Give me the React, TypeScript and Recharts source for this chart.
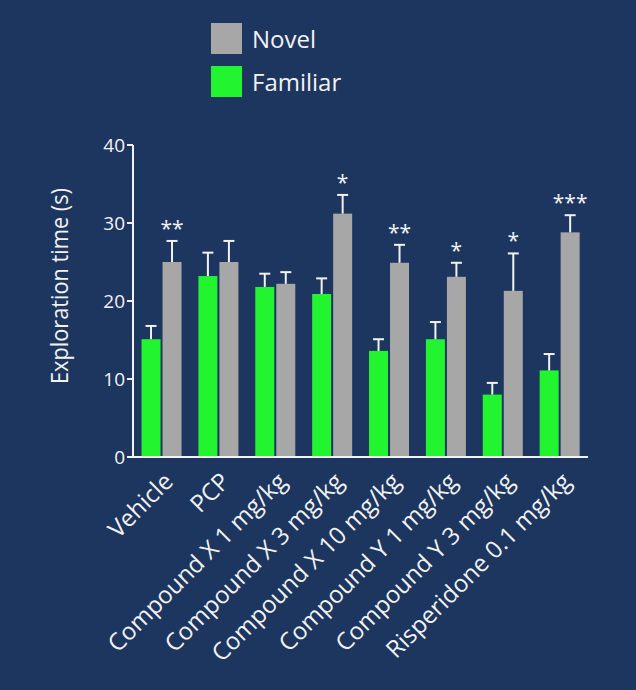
import React from 'react';
import { BarChart, Bar, XAxis, YAxis, Label } from 'recharts';

const categories = [
  'Vehicle',
  'PCP',
  'Compound X 1 mg/kg',
  'Compound X 3 mg/kg',
  'Compound X 10 mg/kg',
  'Compound Y 1 mg/kg',
  'Compound Y 3 mg/kg',
  'Risperidone 0.1 mg/kg',
];
const familiar = [15.1, 23.2, 21.8, 20.9, 13.6, 15.1, 8.0, 11.1];
const familiarErr = [1.7, 3.0, 1.7, 2.0, 1.5, 2.2, 1.5, 2.1];
const novel = [25.0, 25.0, 22.2, 31.2, 24.9, 23.1, 21.3, 28.8];
const novelErr = [2.7, 2.7, 1.5, 2.4, 2.3, 1.8, 4.8, 2.2];
const significance = ['**', '', '', '*', '**', '*', '*', '***'];
const yTicks = [0, 10, 20, 30, 40];
const legendItems = ['Novel', 'Familiar'];

const BG = '#1d365f';
const GREEN = '#22f530';
const GRAY = '#a7a7a7';
const WHITE = '#f2f2f2';
const FONT = '"Open Sans", sans-serif';

const data = categories.map((name, i) => ({
  name,
  familiar: familiar[i],
  familiarErr: familiarErr[i],
  novel: novel[i],
  novelErr: novelErr[i],
  sig: significance[i],
}));

// bar + one-sided error whisker (+ optional stars)
const makeShape = (errKey: string, fill: string, withStars: boolean) => (props: any) => {
  const { x, y, width, height, value, payload } = props;
  const v = Array.isArray(value) ? value[1] - value[0] : value;
  const perUnit = v ? height / v : 0;
  const top = y - payload[errKey] * perUnit;
  const cx = x + width / 2;
  return (
    <g>
      <rect x={x} y={y} width={width} height={height} fill={fill} />
      <line x1={cx} y1={y} x2={cx} y2={top} stroke={WHITE} strokeWidth={2} />
      <line x1={cx - 5.5} y1={top} x2={cx + 5.5} y2={top} stroke={WHITE} strokeWidth={2} />
      {withStars && payload.sig ? (
        <text x={cx} y={top - 5} textAnchor="middle" fill={WHITE} fontSize={21} fontFamily={FONT}>
          {payload.sig}
        </text>
      ) : null}
    </g>
  );
};

const XTick = (props: any) => {
  const { x, y, payload } = props;
  const ax = x + 13;
  const ay = y + 18;
  return (
    <text
      x={ax}
      y={ay}
      textAnchor="end"
      fill={WHITE}
      fontSize={24}
      fontFamily={FONT}
      transform={`rotate(-45, ${ax}, ${ay})`}
    >
      {payload.value}
    </text>
  );
};

const YTitle = (props: any) => {
  const { viewBox } = props;
  const cx = 68;
  const cy = viewBox.y + viewBox.height / 2 - 15;
  return (
    <text
      x={cx}
      y={cy}
      textAnchor="middle"
      fill={WHITE}
      fontSize={24}
      fontFamily={FONT}
      textLength={196}
      lengthAdjust="spacingAndGlyphs"
      transform={`rotate(-90, ${cx}, ${cy})`}
    >
      Exploration time (s)
    </text>
  );
};

export default function App() {
  const colors: Record<string, string> = { Novel: GRAY, Familiar: GREEN };
  return (
    <div style={{ position: 'fixed', left: 0, top: 0, width: 636, height: 690, background: BG }}>
      <div style={{ position: 'absolute', left: 211, top: 17 }}>
        {legendItems.map((label) => (
          <div key={label} style={{ display: 'flex', alignItems: 'center', height: 43 }}>
            <div style={{ width: 31, height: 31, background: colors[label] }} />
            <span style={{ marginLeft: 10, color: WHITE, fontSize: 24, fontFamily: FONT }}>{label}</span>
          </div>
        ))}
      </div>
      <BarChart
        width={636}
        height={690}
        data={data}
        margin={{ top: 145, right: 48, bottom: 0, left: 0 }}
        barGap={2}
        barCategoryGap="15%"
      >
        <XAxis
          dataKey="name"
          interval={0}
          tickLine={false}
          axisLine={{ stroke: WHITE, strokeWidth: 2 }}
          tick={<XTick />}
          height={233}
        />
        <YAxis
          domain={[0, 40]}
          ticks={yTicks}
          width={133}
          axisLine={{ stroke: WHITE, strokeWidth: 2 }}
          tickLine={{ stroke: WHITE, strokeWidth: 2 }}
          tickSize={6}
          tick={{ fill: WHITE, fontSize: 19, fontFamily: FONT }}
        >
          <Label content={<YTitle />} />
        </YAxis>
        <Bar dataKey="familiar" name="Familiar" fill={GREEN} isAnimationActive={false} shape={makeShape('familiarErr', GREEN, false)} />
        <Bar dataKey="novel" name="Novel" fill={GRAY} isAnimationActive={false} shape={makeShape('novelErr', GRAY, true)} />
      </BarChart>
    </div>
  );
}
